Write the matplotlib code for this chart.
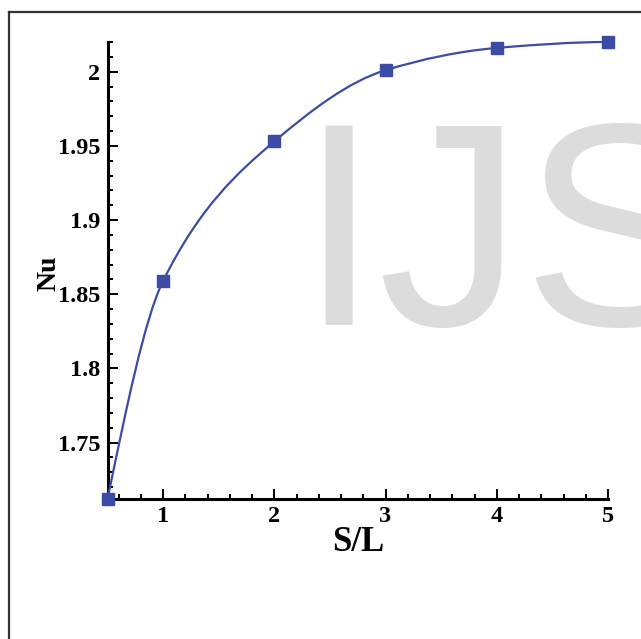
import numpy as np
import matplotlib.pyplot as plt
from matplotlib.path import Path
from matplotlib.patches import PathPatch
from matplotlib.lines import Line2D

# S/L spacing ratio and average Nusselt number
s_over_l = [0.5, 1.0, 2.0, 3.0, 4.0, 5.0]
nu = [1.712, 1.859, 1.953, 2.001, 2.016, 2.020]

xticks = [1, 2, 3, 4, 5]
yticks = [1.75, 1.80, 1.85, 1.90, 1.95, 2.00]

blue = '#3c4ca6'
plt.rcParams['font.family'] = ['Liberation Serif', 'DejaVu Serif']


def smooth_path(x, y):
    # monotone cubic (Fritsch-Carlson) tangents turned into Bezier segments
    x = np.asarray(x, float)
    y = np.asarray(y, float)
    h = np.diff(x)
    d = np.diff(y) / h
    m = np.zeros_like(x)
    for i in range(1, len(x) - 1):
        if d[i - 1] * d[i] > 0:
            w1 = 2 * h[i] + h[i - 1]
            w2 = h[i] + 2 * h[i - 1]
            m[i] = (w1 + w2) / (w1 / d[i - 1] + w2 / d[i])
    m[0] = ((2 * h[0] + h[1]) * d[0] - h[0] * d[1]) / (h[0] + h[1])
    m[-1] = ((2 * h[-1] + h[-2]) * d[-1] - h[-1] * d[-2]) / (h[-1] + h[-2])
    if np.sign(m[0]) != np.sign(d[0]):
        m[0] = 0
    if np.sign(m[-1]) != np.sign(d[-1]):
        m[-1] = 0
    verts = [(x[0], y[0])]
    codes = [Path.MOVETO]
    for i in range(len(x) - 1):
        verts += [(x[i] + h[i] / 3, y[i] + m[i] * h[i] / 3),
                  (x[i + 1] - h[i] / 3, y[i + 1] - m[i + 1] * h[i] / 3),
                  (x[i + 1], y[i + 1])]
        codes += [Path.CURVE4] * 3
    return Path(verts, codes)


fig = plt.figure(figsize=(6.41, 6.39), dpi=100)
ax = fig.add_axes([107.5 / 641, 1 - 499 / 639, (608 - 107.5) / 641, (499 - 42) / 639])

# faint watermark behind the plot
fig.text(298 / 641, 1 - 325 / 639, 'IJSER', family='Liberation Sans',
         fontsize=208, color='#dcdcdc', ha='left', va='baseline', zorder=0)
ax.set_facecolor('none')

ax.add_patch(PathPatch(smooth_path(s_over_l, nu), facecolor='none',
                       edgecolor=blue, lw=1.6, zorder=3, clip_on=False))
ax.plot(s_over_l, nu, ls='none', marker='s', ms=8, color=blue,
        zorder=4, clip_on=False)

ax.set_xlim(0.5, 5)
ax.set_ylim(1.712, 2.02)
ax.set_xticks(xticks)
ax.set_xticks(np.arange(0.6, 5.0, 0.2), minor=True)
ax.set_yticks(yticks)
ax.set_yticks(np.arange(1.72, 2.021, 0.01), minor=True)
ax.set_xticklabels([f'{v:g}' for v in xticks])
ax.set_yticklabels([f'{v:g}' for v in yticks])

for s in ['top', 'right']:
    ax.spines[s].set_visible(False)
for s in ['left', 'bottom']:
    ax.spines[s].set_linewidth(2.2)

ax.tick_params(which='both', direction='in', width=1.4, labelsize=17.5, pad=5)
ax.tick_params(which='major', length=7)
ax.tick_params(which='minor', length=3.5)
for lab in ax.get_xticklabels() + ax.get_yticklabels():
    lab.set_fontweight('bold')

ax.set_xlabel('S/L', fontsize=25, fontweight='bold')
ax.set_ylabel('Nu', fontsize=20, fontweight='bold')
ax.xaxis.set_label_coords(0.5, -0.058)
ax.yaxis.set_label_coords(-0.092, 0.495)

# partial frame around the figure
fig.add_artist(Line2D([9 / 641, 9 / 641], [0, 1 - 12 / 639],
                      transform=fig.transFigure, color='#333333', lw=1.6))
fig.add_artist(Line2D([9 / 641, 1], [1 - 12 / 639, 1 - 12 / 639],
                      transform=fig.transFigure, color='#333333', lw=1.6))

fig.savefig('out.png', dpi=100)
